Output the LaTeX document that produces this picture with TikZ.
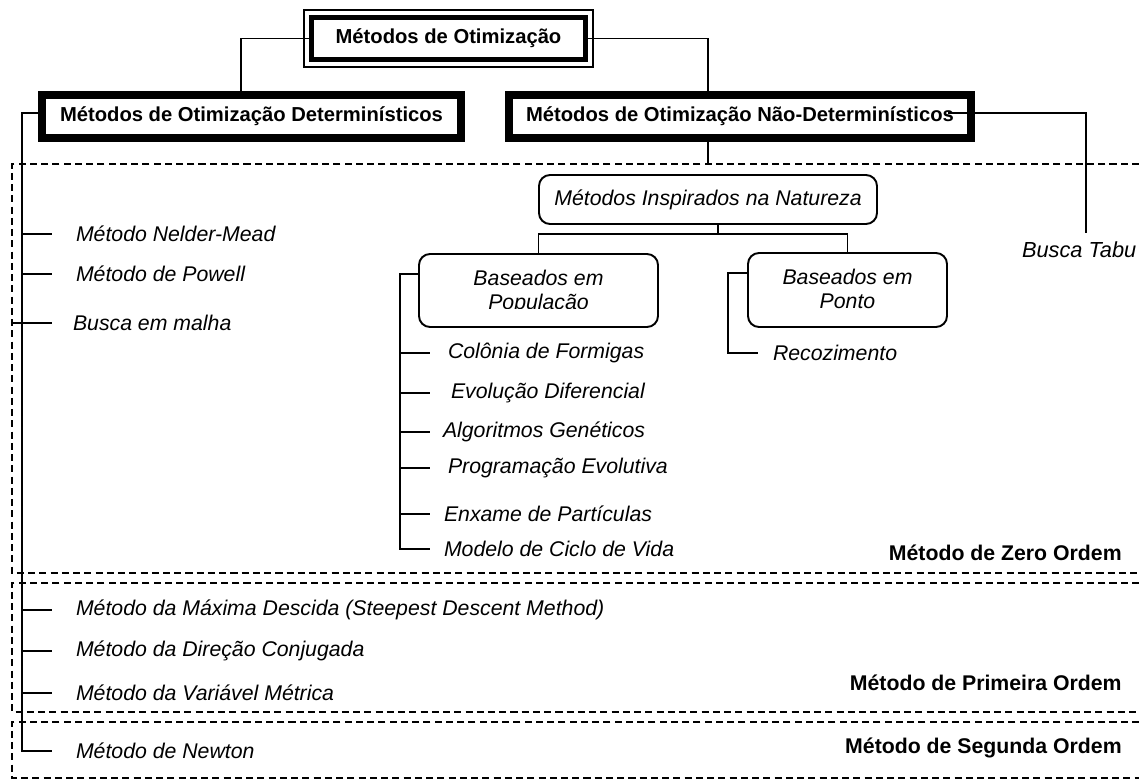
\documentclass[tikz,border=0pt]{standalone}
\usepackage{fontspec}
\setmainfont{Liberation Sans}
\begin{document}
\begin{tikzpicture}[
	font=\fontsize{11.5}{13.8}\selectfont,
	itext/.style={font=\fontsize{12.1}{14.5}\selectfont\itshape},
	link/.style={line width=0.85pt},
	zone/.style={line width=0.85pt, dash pattern=on 4pt off 2.4pt},
	bigbox/.style={draw, line width=4.5pt, minimum height=0.86cm, outer sep=0pt, inner sep=0pt, font=\fontsize{11.5}{13.8}\selectfont\bfseries},
	rbox/.style={draw, rounded corners=0.22cm, line width=1.1pt, outer sep=0pt, itext},
	item/.style={anchor=west, inner sep=0pt, outer sep=0pt, itext},
	order/.style={anchor=east, inner sep=0pt, font=\fontsize{12.1}{14.5}\selectfont\bfseries}
	]
	\useasboundingbox (0,0) rectangle (22.78,-15.62);
	\coordinate (z1a) at (0.24,-3.28);
	\coordinate (z1b) at (0.24,-11.46);
	\coordinate (z2a) at (0.24,-11.66);
	\coordinate (z2b) at (0.24,-14.24);
	\coordinate (z3a) at (0.24,-14.44);
	\coordinate (z3b) at (0.24,-15.56);
	\draw[zone] (22.78,-3.28) -- (z1a) -- (z1b) -- (22.78,-11.46);
	\draw[zone] (22.78,-11.66) -- (z2a) -- (z2b) -- (22.78,-14.24);
	\draw[zone] (22.78,-14.44) -- (z3a) -- (z3b) -- (22.78,-15.56);

	\node[bigbox, line width=3.4pt, minimum width=5.48cm, minimum height=0.84cm] (otim) at (8.97,-0.77) {Métodos de Otimização};
	\draw[line width=0.6pt] ([shift={(-0.15,0.15)}]otim.north west) rectangle ([shift={(0.15,-0.15)}]otim.south east);
	\node[bigbox, minimum width=8.38cm] (det) at (5.03,-2.33) {Métodos de Otimização Determinísticos};
	\node[bigbox, minimum width=9.24cm] (nondet) at (14.80,-2.33) {Métodos de Otimização Não-Determinísticos};

	\node[rbox, minimum width=6.76cm, minimum height=0.98cm] (natur) at (14.16,-3.99) {Métodos Inspirados na Natureza};
	\node[rbox, minimum width=4.78cm, minimum height=1.46cm] (pop) at (10.77,-5.81) {};
	\node[rbox, minimum width=3.98cm, minimum height=1.48cm] (ponto) at (16.95,-5.80) {};
	\begin{scope}
		\clip (9.0,-5.1) rectangle (19.0,-6.16);
		\node[anchor=base, itext] (popa) at (10.77,-5.70) {Baseados em};
		\node[anchor=base, itext] (popb) at (10.77,-6.18) {População};
		\node[anchor=base, itext] (pontoa) at (16.95,-5.68) {Baseados em};
		\node[anchor=base, itext] (pontob) at (16.95,-6.16) {Ponto};
	\end{scope}

	\node[item] (nelder) at (1.52,-4.68) {Método Nelder-Mead};
	\node[item] (powell) at (1.52,-5.48) {Método de Powell};
	\node[item] (malha) at (1.46,-6.46) {Busca em malha};
	\node[item] (maxima) at (1.52,-12.20) {Método da Máxima Descida (Steepest Descent Method)};
	\node[item] (direcao) at (1.52,-13.02) {Método da Direção Conjugada};
	\node[item] (variavel) at (1.52,-13.86) {Método da Variável Métrica};
	\node[item] (newton) at (1.52,-15.02) {Método de Newton};

	\node[item] (colonia) at (8.96,-7.06) {Colônia de Formigas};
	\node[item] (evol) at (9.02,-7.86) {Evolução Diferencial};
	\node[item] (algo) at (8.86,-8.64) {Algoritmos Genéticos};
	\node[item] (prog) at (8.96,-9.36) {Programação Evolutiva};
	\node[item] (enxame) at (8.88,-10.28) {Enxame de Partículas};
	\node[item] (modelo) at (8.88,-10.98) {Modelo de Ciclo de Vida};
	\node[item] (recoz) at (15.46,-7.06) {Recozimento};
	\node[item, font=\fontsize{12.4}{15}\selectfont\itshape] (tabu) at (20.44,-5.00) {Busca Tabu};

	\node[order] (zero) at (22.44,-11.06) {Método de Zero Ordem};
	\node[order] (primeira) at (22.44,-13.66) {Método de Primeira Ordem};
	\node[order] (segunda) at (22.44,-14.96) {Método de Segunda Ordem};

	\draw[link] (otim.west) -| ([xshift=-0.21cm]det.north);
	\draw[link] (otim.east) -| (natur.north |- nondet.north);
	\draw[link] (natur.north |- nondet.south) -- (natur.north |- z1a);
	\draw[link] ([shift={(-0.46,0.07)}]nondet.east) -| (21.72,-4.66);

	\draw[link] ([xshift=0.2cm]natur.south) -- ++(0,-0.2) coordinate (bar);
	\draw[link] (pop.north) |- (bar) -| (ponto.north);

	\coordinate (dstem) at (0.44,-2.26);
	\draw[link] (dstem -| det.west) -- (dstem) -- (dstem |- newton.west) -- ++(0.6,0);
	\foreach \n in {nelder,powell,maxima,direcao,variavel}
		\draw[link] (dstem |- \n.west) -- ++(0.6,0);
	\draw[link] (z1a |- malha.west) -- ++(0.8,0);

	\coordinate (pstem) at (8.00,-5.48);
	\draw[link] (pstem -| pop.west) -- (pstem) -- (pstem |- modelo.west) -- ++(0.6,0);
	\foreach \n in {colonia,evol,algo,prog,enxame}
		\draw[link] (pstem |- \n.west) -- ++(0.6,0);

	\coordinate (tstem) at (14.56,-5.46);
	\draw[link] (tstem -| ponto.west) -- (tstem) |- ([xshift=-0.3cm]recoz.west);
\end{tikzpicture}
\end{document}
